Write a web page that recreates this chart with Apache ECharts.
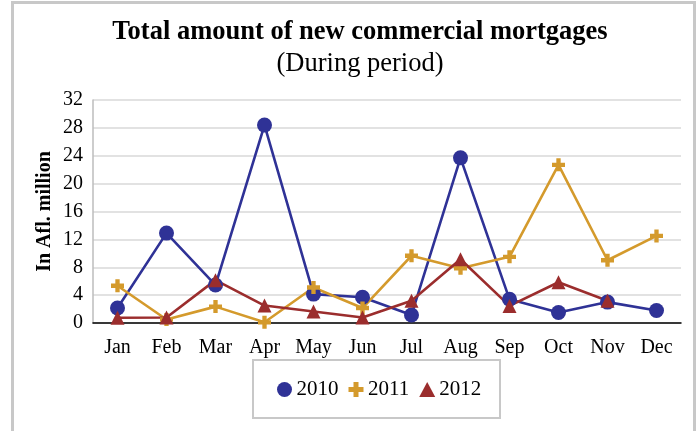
<!DOCTYPE html>
<html>
<head>
<meta charset="utf-8">
<script src="https://cdn.jsdelivr.net/npm/echarts@6/dist/echarts.min.js"></script>
<style>
  html, body { margin: 0; padding: 0; background: #fff; }
  #frame { position: absolute; left: 11px; top: 1px; width: 679px; height: 440px; border: 3px solid #c8c8c8; }
  #chart { position: absolute; left: 0; top: 0; width: 700px; height: 431px; }
</style>
</head>
<body>
<div id="frame"></div>
<div id="chart"></div>
<script>
const months = ['Jan','Feb','Mar','Apr','May','Jun','Jul','Aug','Sep','Oct','Nov','Dec']
const y2010 = [2.15, 12.9, 5.45, 28.4, 4.15, 3.7, 1.15, 23.7, 3.4, 1.5, 3.0, 1.8]
const y2011 = [5.35, 0.5, 2.35, 0.1, 5.1, 2.15, 9.65, 7.85, 9.5, 22.7, 9.0, 12.5]
const y2012 = [0.75, 0.8, 6.15, 2.5, 1.65, 0.8, 3.2, 9.15, 2.45, 5.85, 3.2, null]

const serif = 'Liberation Serif'
const plus = 'path://M4,0H8V4H12V8H8V12H4V8H0V4H4Z'

const chart = echarts.init(document.getElementById('chart'))

function line(name, data, color, symbol, size) {
  return {
    name: name,
    type: 'line',
    data: data,
    symbol: symbol,
    symbolSize: size,
    showAllSymbol: true,
    lineStyle: { color: color, width: 2.6 },
    itemStyle: { color: color },
    emphasis: { disabled: true }
  }
}

chart.setOption({
  animation: false,
  title: [
    { text: 'Total amount of new commercial mortgages', left: 355, top: 14, textAlign: 'center',
      textStyle: { fontFamily: serif, fontSize: 26.5, fontWeight: 'bold', color: '#000' } },
    { text: '(During period)', left: 355, top: 46, textAlign: 'center',
      textStyle: { fontFamily: serif, fontSize: 26.5, fontWeight: 'normal', color: '#000' } }
  ],
  graphic: [
    { type: 'rect', shape: { x: 253, y: 360, width: 247, height: 58 },
      style: { fill: 'none', stroke: '#c8c8c8', lineWidth: 2 } }
  ],
  legend: {
    left: 272, top: 374,
    itemGap: 10, itemWidth: 16, itemHeight: 15,
    textStyle: { fontFamily: serif, fontSize: 21, color: '#000', padding: [0, 0, 0, -1] },
    data: [
      { name: '2010', icon: 'circle' },
      { name: '2011', icon: plus },
      { name: '2012', icon: 'triangle' }
    ]
  },
  grid: { left: 93, right: 19, top: 100, bottom: 108 },
  xAxis: {
    type: 'category',
    data: months,
    boundaryGap: true,
    axisLine: { lineStyle: { color: '#000', width: 1.5 } },
    axisTick: { show: false },
    axisLabel: { fontFamily: serif, fontSize: 20, color: '#000', margin: 15 }
  },
  yAxis: {
    type: 'value',
    min: 0, max: 32, interval: 4,
    name: 'In Afl. million',
    nameLocation: 'middle',
    nameGap: 38,
    nameMoveOverlap: false,
    nameTextStyle: { fontFamily: serif, fontSize: 20, fontWeight: 'bold', color: '#000' },
    axisLine: { show: true, lineStyle: { color: '#bdbdbd', width: 1.5 } },
    axisTick: { show: false },
    axisLabel: { fontFamily: serif, fontSize: 20, color: '#000', margin: 10 },
    splitLine: { lineStyle: { color: '#d9d9d9', width: 1.5 } }
  },
  series: [
    line('2010', y2010, '#2f3296', 'circle', 15),
    line('2011', y2011, '#d49a2c', plus, 13),
    line('2012', y2012, '#9b2d2d', 'triangle', 14)
  ]
})
</script>
</body>
</html>
